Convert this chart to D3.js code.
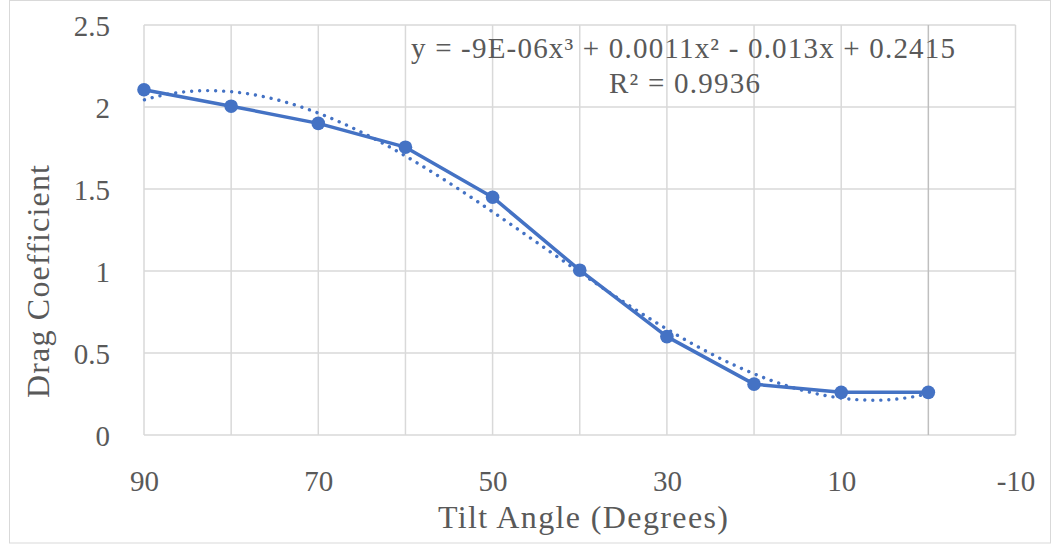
<!DOCTYPE html>
<html><head><meta charset="utf-8">
<script src="https://cdn.jsdelivr.net/npm/d3@7"></script>
<style>body{margin:0;background:#fff}svg{display:block}text{font-family:"Liberation Serif","DejaVu Serif",serif;fill:#595959}</style>
</head><body><svg id="c" width="1051" height="546"></svg>
<script>
const angles = [90, 80, 70, 60, 50, 40, 30, 20, 10, 0];
const dragCoef = [2.105, 2.005, 1.9, 1.755, 1.45, 1.005, 0.6, 0.31, 0.26, 0.26];
const xTicks = [90, 70, 50, 30, 10, -10];
const xGrid = [90, 80, 70, 60, 50, 40, 30, 20, 10, 0, -10];
const yTicks = [0, 0.5, 1, 1.5, 2, 2.5];
const eqText = "y = -9E-06x³ + 0.0011x² - 0.013x + 0.2415";
const r2Text = "R² = 0.9936";

const svg = d3.select("#c");
const W = 1051, H = 546;
const x = d3.scaleLinear().domain([90, -10]).range([144, 1015.5]);
const y = d3.scaleLinear().domain([0, 2.5]).range([435, 25]);
const blue = "#4472C4";

svg.append("rect").attr("x", 9.5).attr("y", 0.5).attr("width", W - 10).attr("height", 542.5)
  .attr("fill", "#fff").attr("stroke", "#d9d9d9");

// gridlines
svg.append("g").selectAll("line").data(yTicks).join("line")
  .attr("x1", x(90)).attr("x2", x(-10)).attr("y1", d => y(d)).attr("y2", d => y(d))
  .attr("stroke", "#d9d9d9").attr("stroke-width", 1.5);
svg.append("g").selectAll("line").data(xGrid).join("line")
  .attr("x1", d => x(d)).attr("x2", d => x(d)).attr("y1", y(0)).attr("y2", y(2.5))
  .attr("stroke", d => d === 0 ? "#bfbfbf" : "#d9d9d9").attr("stroke-width", 1.5);

// axes labels via d3 axes
const xAxis = d3.axisBottom(x).tickValues(xTicks).tickSize(0).tickPadding(0).tickFormat(d => String(d));
const gx = svg.append("g").attr("transform", `translate(0,${y(0)})`).call(xAxis);
gx.select(".domain").remove();
gx.selectAll("text").attr("dy", null).attr("y", 56).attr("font-size", 29).style("fill", "#595959").attr("font-family", null);

const yAxis = d3.axisLeft(y).tickValues(yTicks).tickSize(0).tickPadding(0).tickFormat(d => String(d));
const gy = svg.append("g").attr("transform", `translate(110,0)`).call(yAxis);
gy.select(".domain").remove();
gy.selectAll("text").attr("dy", "0.35em").attr("font-size", 29).style("fill", "#595959").attr("font-family", null);

// trendline: least-squares cubic fit from data
function polyfit(xs, ys, deg) {
  const n = deg + 1;
  const A = Array.from({length: n}, () => new Array(n + 1).fill(0));
  for (let i = 0; i < n; i++) {
    for (let j = 0; j < n; j++) A[i][j] = d3.sum(xs, v => Math.pow(v, i + j));
    A[i][n] = d3.sum(xs, (v, k) => ys[k] * Math.pow(v, i));
  }
  for (let c = 0; c < n; c++) {
    let p = c;
    for (let r = c + 1; r < n; r++) if (Math.abs(A[r][c]) > Math.abs(A[p][c])) p = r;
    [A[c], A[p]] = [A[p], A[c]];
    for (let r = 0; r < n; r++) if (r !== c) {
      const f = A[r][c] / A[c][c];
      for (let k = c; k <= n; k++) A[r][k] -= f * A[c][k];
    }
  }
  return A.map((row, i) => row[n] / row[i]);
}
const coef = polyfit(angles, dragCoef, 3);
const fit = t => coef.reduce((s, c, i) => s + c * Math.pow(t, i), 0);
const tx = d3.range(0, 90.01, 0.5);
svg.append("path").datum(tx)
  .attr("d", d3.line().x(d => x(d)).y(d => y(fit(d))))
  .attr("fill", "none").attr("stroke", blue).attr("stroke-width", 3.4)
  .attr("stroke-linecap", "round").attr("stroke-dasharray", "0.01 8");

// data line
const pts = angles.map((a, i) => [a, dragCoef[i]]);
svg.append("path").datum(pts)
  .attr("d", d3.line().x(d => x(d[0])).y(d => y(d[1])))
  .attr("fill", "none").attr("stroke", blue).attr("stroke-width", 3.5).attr("stroke-linejoin", "round");
svg.append("g").selectAll("circle").data(pts).join("circle")
  .attr("cx", d => x(d[0])).attr("cy", d => y(d[1])).attr("r", 6.8).attr("fill", blue);

// trendline label
svg.append("text").attr("x", 683).attr("y", 58).attr("text-anchor", "middle").attr("font-size", 29)
  .attr("textLength", 544).attr("lengthAdjust", "spacing").text(eqText);
svg.append("text").attr("x", 684.5).attr("y", 93).attr("text-anchor", "middle").attr("font-size", 29)
  .attr("textLength", 151).attr("lengthAdjust", "spacing").text(r2Text);

// axis titles
svg.append("text").attr("x", 583).attr("y", 528).attr("text-anchor", "middle").attr("font-size", 32)
  .attr("textLength", 290).attr("lengthAdjust", "spacing").text("Tilt Angle (Degrees)");
svg.append("text").attr("transform", "translate(49,281.5) rotate(-90)").attr("text-anchor", "middle").attr("font-size", 32)
  .attr("textLength", 233).attr("lengthAdjust", "spacing").text("Drag Coefficient");
</script></body></html>
